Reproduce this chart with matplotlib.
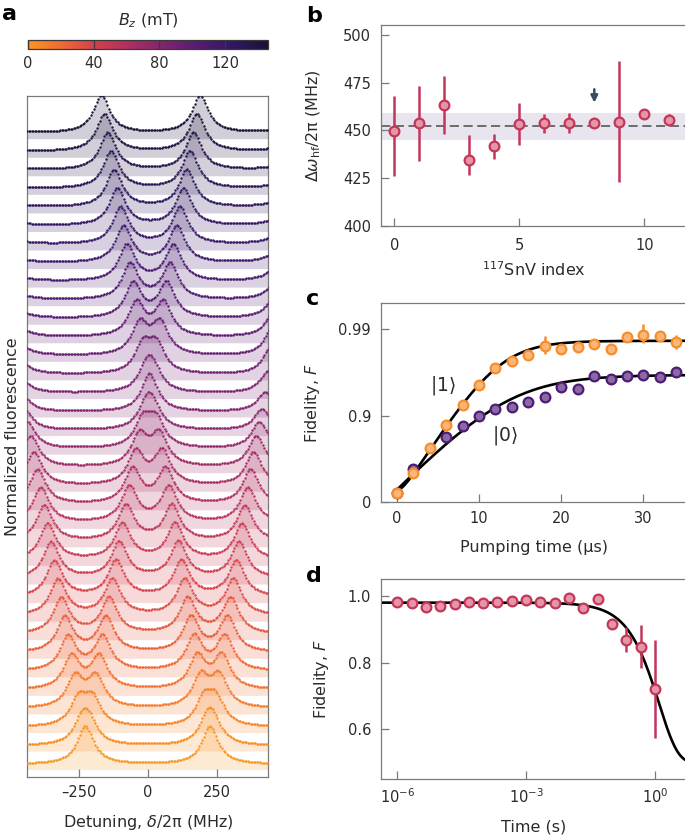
import numpy as np
import matplotlib
matplotlib.use("Agg")
import matplotlib.pyplot as plt
from matplotlib.colors import LinearSegmentedColormap, Normalize
from matplotlib.cm import ScalarMappable
from matplotlib.ticker import NullLocator

plt.rcParams['font.family'] = ['DejaVu Sans']
plt.rcParams['mathtext.fontset'] = 'dejavusans'

# ---------------- data ----------------
# panel a: magnetic field of each spectrum (bottom to top) and the four line centres (MHz)
field_mT = [0, 4.3, 8.6, 12.9, 17.2, 21.5, 25.8, 30.1, 34.4, 38.6, 42.9, 47.2,
            51.5, 55.8, 60.1, 64.4, 68.7, 73.0, 77.3, 81.6, 85.9, 90.2, 94.5,
            98.8, 103.1, 107.4, 111.6, 115.9, 120.2, 124.5, 128.8, 133.1,
            137.4, 141.7, 146.0]
line_p = [-228, -216, -203, -191, -179, -166, -154, -142, -130, -117, -105, -93,
          -80, -68, -56, -44, -31, -19, -7, 6, 18, 30, 43, 55, 67, 80, 92, 104,
          116, 129, 141, 153, 166, 178, 190]
line_q = [226, 214, 203, 191, 179, 168, 156, 144, 133, 121, 110, 98, 86, 75, 63,
          51, 40, 28, 16, 5, -7, -19, -30, -42, -54, -65, -77, -89, -100, -112,
          -124, -135, -147, -159, -170]
line_r = [-228, -241, -253, -266, -278, -291, -303, -316, -328, -341, -353, -366,
          -378, -391, -403, -416, -428, -441, -453, -466, -478, -491, -503, -516,
          -528, -541, -553, -566, -578, -591, -603, -616, -628, -641, -653]
line_s = [226, 237, 247, 258, 268, 279, 289, 300, 310, 321, 331, 342, 352, 363,
          373, 384, 394, 405, 415, 426, 436, 447, 457, 468, 478, 489, 499, 510,
          520, 531, 541, 552, 562, 573, 583]
line_hwhm = 36  # MHz

# panel b: hyperfine splitting per emitter
snv_index = [0, 1, 2, 3, 4, 5, 6, 7, 8, 9, 10, 11]
hf_split = [449.7, 454.0, 463.1, 434.6, 441.6, 453.3, 454.0, 453.8, 453.7, 454.5, 458.7, 455.4]
hf_low = [426.0, 434.1, 447.9, 426.6, 435.1, 442.3, 448.8, 448.4, 453.7, 422.9, 458.7, 453.5]
hf_high = [468.2, 473.3, 478.3, 447.6, 447.9, 464.2, 458.6, 459.1, 453.7, 486.4, 458.7, 458.4]
hf_mean = 452.3
hf_band = [445.1, 459.1]

# panel c: initialisation fidelity vs pumping time
pump_t1 = [0, 2, 4, 6, 8, 10, 12, 14, 16, 18, 20, 22, 24, 26, 28, 30, 32, 34]
fid_1 = [0.213, 0.546, 0.762, 0.872, 0.925, 0.956, 0.972, 0.977, 0.980, 0.9844,
         0.983, 0.984, 0.985, 0.983, 0.9876, 0.9882, 0.9880, 0.9859]
fid_1_lo = [0, 0, 0, 0, 0, 0, 0, 0, 0, 0.0037, 0, 0, 0, 0, 0, 0.0028, 0, 0.0029]
fid_1_hi = [0, 0, 0, 0, 0, 0, 0, 0, 0, 0.0037, 0, 0, 0, 0, 0, 0.0031, 0, 0.0025]
pump_t0 = [0, 2, 6, 8, 10, 12, 14, 16, 18, 20, 22, 24, 26, 28, 30, 32, 34]
fid_0 = [0.213, 0.592, 0.823, 0.867, 0.900, 0.917, 0.921, 0.931, 0.940, 0.954,
         0.951, 0.965, 0.962, 0.965, 0.966, 0.964, 0.969]
# fit parameters (eps, amplitude, onset, tau in us)
fit_1 = [0.0136, 0.706, 1.0, 2.87]
fit_0 = [0.0337, 0.686, 0.0, 4.47]

# panel d: fidelity vs storage time
store_t = [1e-6, 2.15e-6, 4.64e-6, 1e-5, 2.15e-5, 4.64e-5, 1e-4, 2.15e-4, 4.64e-4,
           1e-3, 2.15e-3, 4.64e-3, 1e-2, 2.15e-2, 4.64e-2, 0.1, 0.215, 0.464, 1.0]
fid_store = [0.983, 0.978, 0.967, 0.971, 0.976, 0.983, 0.978, 0.983, 0.986, 0.988,
             0.982, 0.980, 0.995, 0.965, 0.992, 0.917, 0.869, 0.848, 0.720]
fid_store_low = [0.983, 0.978, 0.967, 0.971, 0.976, 0.983, 0.978, 0.983, 0.986, 0.988,
                 0.982, 0.980, 0.995, 0.965, 0.992, 0.917, 0.831, 0.783, 0.573]
fid_store_high = [0.983, 0.978, 0.967, 0.971, 0.976, 0.983, 0.978, 0.983, 0.986, 0.988,
                  0.982, 0.980, 0.995, 0.965, 0.992, 0.917, 0.908, 0.913, 0.868]
fit_store = [0.5, 0.48, 1.25]  # floor, amplitude, T1 (s)

# ---------------- styles ----------------
grey = '#7a7a7a'
txt = '#2b2b2b'
crimson = '#c3365a'
pink = '#e596a6'
fs_tick = 10.5
fs_lab = 11.5
cmap = LinearSegmentedColormap.from_list('bz', [
    (0.0, '#f8971f'), (0.14, '#f06a32'), (0.27, '#d6414b'), (0.41, '#b0305f'),
    (0.55, '#85256f'), (0.70, '#571c73'), (0.84, '#351766'), (1.0, '#1b1238')])
norm = Normalize(0, 146)

fig = plt.figure(figsize=(6.85, 8.39), dpi=100)


def style(ax, xpad=6, ypad=6):
    for s in ax.spines.values():
        s.set_color(grey)
        s.set_linewidth(0.9)
    ax.tick_params(direction='in', length=6, width=0.9, color=grey,
                   labelcolor=txt, labelsize=fs_tick)
    ax.tick_params(axis='x', pad=xpad)
    ax.tick_params(axis='y', pad=ypad)


def px(x0, y0, x1, y1):
    W, H = 685, 839
    return [x0 / W, 1 - y1 / H, (x1 - x0) / W, (y1 - y0) / H]


# ---------------- panel a ----------------
ax_a = fig.add_axes(px(27.3, 96, 268.3, 777))
detuning = np.linspace(-440, 440, 161)
x_fine = np.linspace(-440, 440, 600)


def spectrum(x, centres):
    s = np.zeros_like(x)
    for c in centres:
        s += 1.0 / (1 + ((x - c) / line_hwhm) ** 2)
    return s


peak_h = 2.05
floor = 0.3
n_tr = len(field_mT)
for k in range(n_tr - 1, -1, -1):
    cs = [line_p[k], line_q[k], line_r[k], line_s[k]]
    scale = spectrum(x_fine, cs).max()
    col = cmap(norm(field_mT[k]))
    yf = k + peak_h * spectrum(x_fine, cs) / scale
    yd = k + peak_h * spectrum(detuning, cs) / scale
    ax_a.fill_between(x_fine, k - floor, yf, color=col, alpha=0.2, lw=0,
                      zorder=2 + (n_tr - k) * 0.01)
    ax_a.plot(detuning, yd, 'o', ms=1.7, mew=0, color=col, zorder=3 + (n_tr - k) * 0.01)

ax_a.set_xlim(-439, 438)
ax_a.set_ylim(-0.70, 36.0)
ax_a.set_yticks([])
ax_a.set_xticks([-250, 0, 250])
ax_a.set_xticklabels(['\u2013250', '0', '250'])
style(ax_a, xpad=6)
ax_a.set_xlabel(r'Detuning, $\delta$/2π (MHz)', fontsize=fs_lab, color=txt, labelpad=9)
ax_a.set_ylabel('Normalized fluorescence', fontsize=fs_lab, color=txt)
ax_a.yaxis.set_label_coords(-0.03, 0.5)

# colorbar
cax = fig.add_axes(px(27.7, 40, 268, 49))
cb = fig.colorbar(ScalarMappable(norm=norm, cmap=cmap), cax=cax, orientation='horizontal')
cb.set_ticks([0, 40, 80, 120])
cb.outline.set_edgecolor('#3a3a3a')
cb.outline.set_linewidth(0.9)
cax.tick_params(direction='in', length=6.5, width=0.9, color='#3a3a3a',
                labelcolor=txt, labelsize=fs_tick, pad=5)
fig.text(148 / 685, 1 - 21 / 839, r'$B_z$ (mT)', ha='center', va='center',
         fontsize=fs_lab, color=txt)

# ---------------- panel b ----------------
ax_b = fig.add_axes(px(380.7, 25, 687, 225.7))
ax_b.axhspan(hf_band[0], hf_band[1], color='#e9e5ef', lw=0, zorder=0)
ax_b.axhline(hf_mean, color='#4a4a4a', lw=1.1, ls=(0, (6, 3)), zorder=1)
err_b = [np.array(hf_split) - np.array(hf_low), np.array(hf_high) - np.array(hf_split)]
ax_b.errorbar(snv_index, hf_split, yerr=err_b, fmt='o', ms=7, mfc=pink, mec=crimson,
              mew=1.6, ecolor=crimson, elinewidth=1.8, capsize=0, zorder=3)
ax_b.annotate('', xy=(8, 464.5), xytext=(8, 471.5),
              arrowprops=dict(arrowstyle='-|>', color='#3b4a60', lw=1.8,
                              mutation_scale=10, shrinkA=0, shrinkB=0))
ax_b.set_xlim(-0.55, 11.71)
ax_b.set_ylim(400, 505.2)
ax_b.set_xticks([0, 5, 10])
ax_b.set_yticks([400, 425, 450, 475, 500])
style(ax_b, xpad=9, ypad=7)
ax_b.set_xlabel(r'$^{117}$SnV index', fontsize=fs_lab, color=txt, labelpad=5)
ax_b.set_ylabel('Δ$\\omega_{\\mathrm{hf}}$/2π (MHz)', fontsize=fs_lab, color=txt)
ax_b.yaxis.set_label_coords(-0.19, 0.5)

# ---------------- panel c ----------------
ax_c = fig.add_axes(px(380.7, 303.3, 687, 502.3))


def fwd(F):
    F = np.asarray(F, dtype=float)
    return -np.log10(np.clip(1 - F, 1e-9, None))


def inv(u):
    return 1 - 10 ** (-np.asarray(u, dtype=float))


ax_c.set_yscale('function', functions=(fwd, inv))
t_fit = np.linspace(0, 36, 300)
for p in (fit_1, fit_0):
    eps, amp, onset, tau = p
    F = 1 - (eps + amp * np.exp(-(np.sqrt(t_fit ** 2 + onset ** 2) - onset) / tau))
    ax_c.plot(t_fit, F, color='black', lw=1.9, zorder=2)
ax_c.errorbar(pump_t0, fid_0, fmt='o', ms=7, mfc='#8b6aa4', mec='#4d1c78', mew=1.6, zorder=3)
ax_c.errorbar(pump_t1, fid_1, yerr=[fid_1_lo, fid_1_hi], fmt='o', ms=7, mfc='#fbb67a',
              mec='#f78e2a', mew=1.6, ecolor='#f78e2a', elinewidth=1.8, capsize=0, zorder=4)
ax_c.text(5.6, inv(1.345), r'$|1\rangle$', fontsize=13.5, ha='center', va='center', color=txt)
ax_c.text(13.1, inv(0.767), r'$|0\rangle$', fontsize=13.5, ha='center', va='center', color=txt)
ax_c.set_xlim(-1.95, 35.3)
ax_c.set_ylim(0, inv(2.3))
ax_c.set_yticks([0, 0.9, 0.99])
ax_c.set_yticklabels(['0', '0.9', '0.99'])
ax_c.yaxis.set_minor_locator(NullLocator())
ax_c.set_xticks([0, 10, 20, 30])
style(ax_c, xpad=6, ypad=7)
ax_c.set_xlabel('Pumping time (μs)', fontsize=fs_lab, color=txt, labelpad=10)
ax_c.set_ylabel(r'Fidelity, $F$', fontsize=fs_lab, color=txt)
ax_c.yaxis.set_label_coords(-0.193, 0.5)

# ---------------- panel d ----------------
ax_d = fig.add_axes(px(380.7, 579.3, 687, 779))
t_d = np.logspace(-6.5, 0.8, 400)
ax_d.plot(t_d, fit_store[0] + fit_store[1] * np.exp(-t_d / fit_store[2]), color='black',
          lw=1.9, zorder=2)
err_d = [np.array(fid_store) - np.array(fid_store_low),
         np.array(fid_store_high) - np.array(fid_store)]
ax_d.errorbar(store_t, fid_store, yerr=err_d, fmt='o', ms=7, mfc=pink, mec=crimson,
              mew=1.6, ecolor=crimson, elinewidth=1.8, capsize=0, zorder=3)
ax_d.set_xscale('log')
ax_d.set_xlim(10 ** -6.386, 10 ** 0.745)
ax_d.set_ylim(0.451, 1.05)
ax_d.set_xticks([1e-6, 1e-3, 1])
ax_d.xaxis.set_minor_locator(NullLocator())
ax_d.set_yticks([0.6, 0.8, 1.0])
ax_d.set_yticklabels(['0.6', '0.8', '1.0'])
style(ax_d, xpad=6, ypad=7)
ax_d.set_xlabel('Time (s)', fontsize=fs_lab, color=txt, labelpad=9.5)
ax_d.set_ylabel(r'Fidelity, $F$', fontsize=fs_lab, color=txt)
ax_d.yaxis.set_label_coords(-0.163, 0.5)

# panel letters
for lab, xx, yy in [('a', 2, 20), ('b', 306, 21.7), ('c', 306, 305), ('d', 306, 581.7)]:
    fig.text(xx / 685, 1 - yy / 839, lab, fontsize=16, fontweight='heavy',
             ha='left', va='baseline', color='black')

fig.savefig('out.png', dpi=100)
